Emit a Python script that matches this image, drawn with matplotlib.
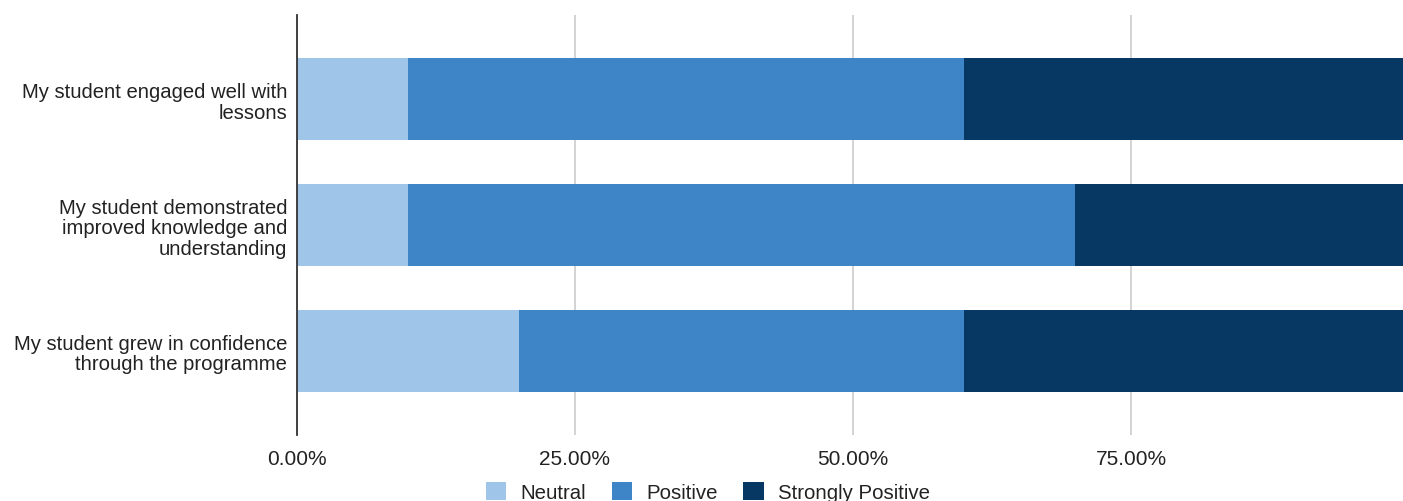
import matplotlib
matplotlib.use("Agg")
import matplotlib.pyplot as plt
from matplotlib.ticker import FuncFormatter
import numpy as np

categories = [
    "My student engaged well with\nlessons",
    "My student demonstrated\nimproved knowledge and\nunderstanding",
    "My student grew in confidence\nthrough the programme",
]
series_names = ["Neutral", "Positive", "Strongly Positive"]
neutral = [0.10, 0.10, 0.20]
positive = [0.50, 0.60, 0.40]
strongly_positive = [0.40, 0.30, 0.40]
colors = ["#9fc5e8", "#3d85c6", "#073763"]
xticks = [0, 0.25, 0.5, 0.75]

plt.rcParams['font.family'] = ['Liberation Sans', 'DejaVu Sans']

fig = plt.figure(figsize=(14.03, 5.02), dpi=100)
ax = fig.add_axes([297/1403, 1-436/502, (1409-297)/1403, 420/502])

y = np.arange(len(categories))
left = np.zeros(len(categories))
for name, vals, c in zip(series_names, [neutral, positive, strongly_positive], colors):
    ax.barh(y, vals, left=left, height=0.65, color=c, label=name, zorder=3)
    left += np.array(vals)

ax.set_ylim(2.67, -0.67)
ax.set_xlim(0, 1)
ax.set_yticks(y)
ax.set_yticklabels(categories, fontsize=14.6, color="#222222", linespacing=1.1)
ax.set_xticks(xticks)
ax.xaxis.set_major_formatter(FuncFormatter(lambda v, p: f"{v*100:.2f}%"))
ax.tick_params(axis='x', length=0, labelsize=15, labelcolor="#222222", pad=10)
ax.tick_params(axis='y', length=0, pad=7)
ax.grid(axis='x', color="#cccccc", linewidth=1.2, zorder=0)
for s in ["top", "right", "bottom"]:
    ax.spines[s].set_visible(False)
ax.spines["left"].set_color("#333333")
ax.spines["left"].set_linewidth(1.3)
ax.spines["left"].set_zorder(4)

fig.legend(loc="center", bbox_to_anchor=(708/1403, 1-493/502), ncol=3, frameon=False,
           fontsize=14.7, handlelength=1.0, handleheight=1.0, columnspacing=1.25, handletextpad=0.7,
           labelcolor="#222222")

fig.savefig("out.png", dpi=100)
